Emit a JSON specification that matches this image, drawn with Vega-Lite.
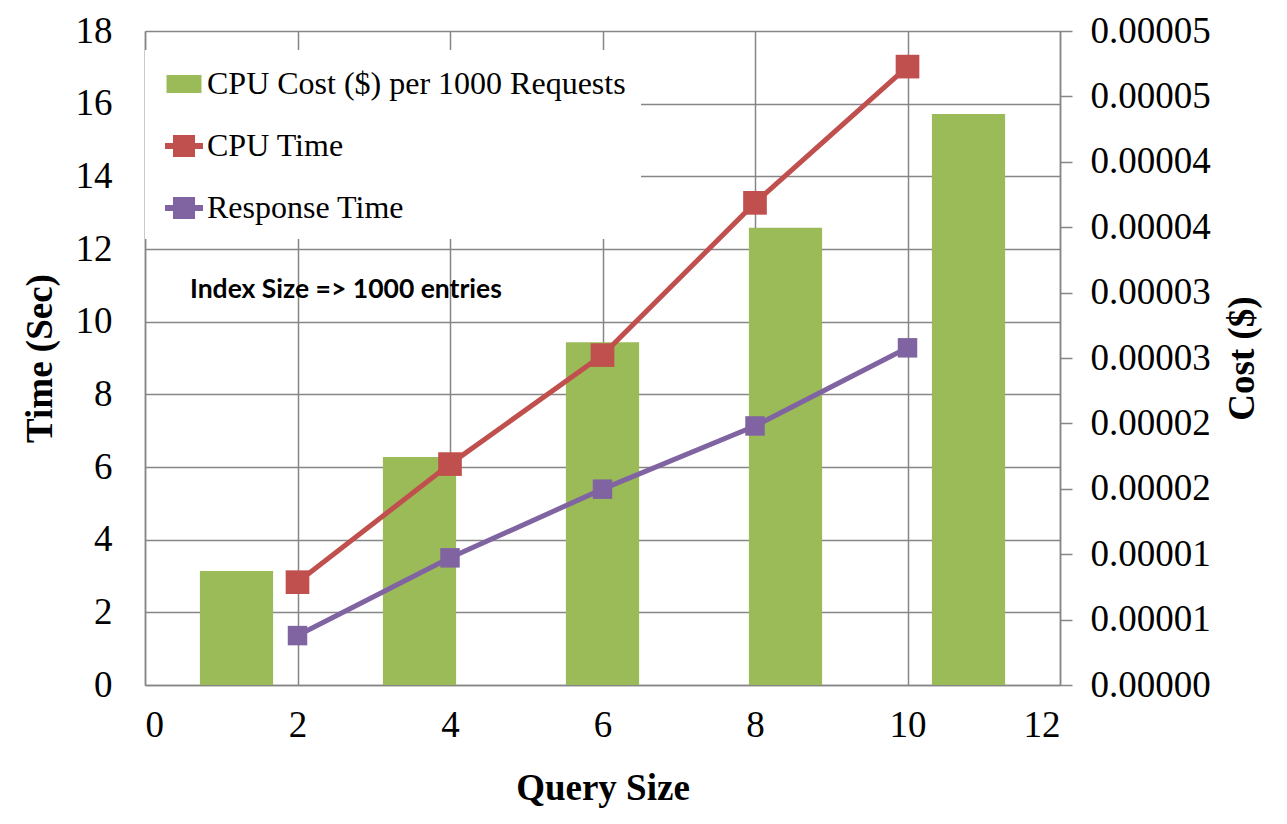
{
  "$schema": "https://vega.github.io/schema/vega-lite/v6.json",
  "width": 915,
  "height": 654,
  "autosize": {"type": "none"},
  "padding": {"left": 145, "top": 31, "right": 227, "bottom": 139},
  "background": "white",
  "config": {
    "font": "Liberation Serif",
    "view": {"stroke": null},
    "axis": {
      "labelFont": "Liberation Serif",
      "titleFont": "Liberation Serif",
      "labelFontSize": 37,
      "titleFontSize": 37,
      "titleFontWeight": "bold",
      "labelColor": "black",
      "titleColor": "black",
      "domainColor": "#868686",
      "domainWidth": 1.5,
      "gridColor": "#868686",
      "gridWidth": 1.5,
      "gridOpacity": 1,
      "tickColor": "#868686",
      "tickWidth": 1.5
    }
  },
  "datasets": {
    "cost": [
      {"query": 2, "series": "CPU Cost ($) per 1000 Requests", "cost": 0.00000872},
      {"query": 4, "series": "CPU Cost ($) per 1000 Requests", "cost": 0.00001743},
      {"query": 6, "series": "CPU Cost ($) per 1000 Requests", "cost": 0.0000262},
      {"query": 8, "series": "CPU Cost ($) per 1000 Requests", "cost": 0.00003496},
      {"query": 10, "series": "CPU Cost ($) per 1000 Requests", "cost": 0.00004365}
    ],
    "time": [
      {"query": 2, "series": "CPU Time", "time": 2.83},
      {"query": 4, "series": "CPU Time", "time": 6.08},
      {"query": 6, "series": "CPU Time", "time": 9.08},
      {"query": 8, "series": "CPU Time", "time": 13.27},
      {"query": 10, "series": "CPU Time", "time": 17.02},
      {"query": 2, "series": "Response Time", "time": 1.36},
      {"query": 4, "series": "Response Time", "time": 3.5},
      {"query": 6, "series": "Response Time", "time": 5.39},
      {"query": 8, "series": "Response Time", "time": 7.13},
      {"query": 10, "series": "Response Time", "time": 9.28}
    ],
    "notes": [
      {"note": "Index Size => 1000 entries"}
    ]
  },
  "layer": [
    {
      "data": {"name": "cost"},
      "mark": {"type": "bar", "color": "#9BBB59"},
      "encoding": {
        "x": {
          "field": "query",
          "type": "ordinal",
          "scale": {"paddingInner": 0.6, "paddingOuter": 0.3},
          "axis": null
        },
        "y": {
          "field": "cost",
          "type": "quantitative",
          "scale": {"domain": [0, 0.00005], "nice": false, "zero": true},
          "axis": {
            "orient": "right",
            "title": "Cost ($)",
            "values": [0, 0.000005, 0.00001, 0.000015, 0.00002, 0.000025, 0.00003, 0.000035, 0.00004, 0.000045, 0.00005],
            "labelExpr": "format(datum.value + 1e-12, '.5f')",
            "grid": false,
            "ticks": true,
            "tickSize": 12,
            "labelPadding": 18,
            "titleAngle": -90,
            "titleBaseline": "top",
            "titlePadding": 14
          }
        },
        "color": {
          "field": "series",
          "type": "nominal",
          "scale": {
            "domain": ["CPU Cost ($) per 1000 Requests", "CPU Time", "Response Time"],
            "range": ["#9BBB59", "#C0504D", "#8064A2"]
          },
          "legend": {
            "title": null,
            "orient": "none",
            "legendX": 0,
            "legendY": 19,
            "direction": "vertical",
            "fillColor": "white",
            "padding": 15,
            "labelFont": "Liberation Serif",
            "labelFontSize": 32,
            "labelColor": "black",
            "labelLimit": 0,
            "labelOffset": 4,
            "rowPadding": 27,
            "symbolSize": 1444,
            "symbolStrokeWidth": 0,
            "symbolOffset": 5,
            "encode": {
              "symbols": {
                "update": {
                  "shape": {"signal": "datum.value === 'CPU Cost ($) per 1000 Requests' ? 'M-0.92,-0.47H0.92V0.47H-0.92Z' : 'M-1,-0.16H-0.58V-0.58H0.58V-0.16H1V0.16H0.58V0.58H-0.58V0.16H-1Z'"}
                }
              }
            }
          }
        }
      }
    },
    {
      "data": {"name": "time"},
      "layer": [
        {
          "mark": {"type": "line", "strokeWidth": 5},
          "encoding": {
            "x": {
              "field": "query",
              "type": "quantitative",
              "scale": {"domain": [0, 12], "nice": false},
              "axis": {
                "orient": "bottom",
                "title": "Query Size",
                "values": [0, 2, 4, 6, 8, 10, 12],
                "format": "d",
                "grid": true,
                "ticks": false,
                "labelPadding": 22,
                "titlePadding": 27
              }
            },
            "y": {
              "field": "time",
              "type": "quantitative",
              "scale": {"domain": [0, 18], "nice": false},
              "axis": {
                "orient": "left",
                "title": "Time (Sec)",
                "values": [0, 2, 4, 6, 8, 10, 12, 14, 16, 18],
                "format": "d",
                "grid": true,
                "ticks": false,
                "labelPadding": 33,
                "titlePadding": 16
              }
            },
            "color": {"field": "series", "type": "nominal", "legend": null}
          }
        },
        {
          "mark": {"type": "point", "shape": "square", "filled": true, "opacity": 1},
          "encoding": {
            "x": {"field": "query", "type": "quantitative"},
            "y": {"field": "time", "type": "quantitative"},
            "color": {"field": "series", "type": "nominal", "legend": null},
            "size": {
              "field": "series",
              "type": "ordinal",
              "scale": {"domain": ["CPU Time", "Response Time"], "range": [560, 380]},
              "legend": null
            }
          }
        },
        {
          "data": {"name": "notes"},
          "mark": {"type": "text", "font": "Lato", "fontWeight": "bold", "fontSize": 26.5, "align": "left", "baseline": "middle", "fill": "black"},
          "encoding": {
            "x": {"datum": 0.59},
            "y": {"datum": 10.87},
            "text": {"field": "note"}
          }
        }
      ]
    }
  ],
  "resolve": {"scale": {"x": "independent", "y": "independent"}}
}
